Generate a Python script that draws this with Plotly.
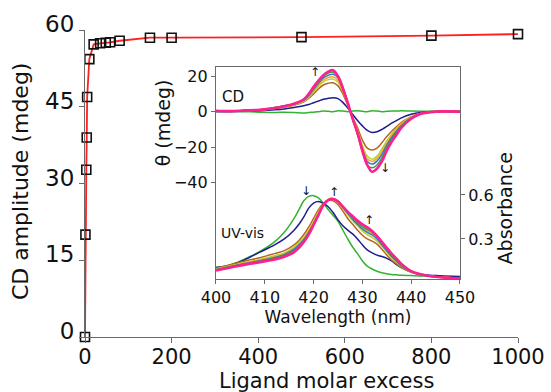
import plotly.graph_objects as go

# ---- main titration curve ----
ligand_excess = [0, 1, 3, 4, 5, 10, 20, 35, 48, 58, 80, 150, 200, 500, 800, 1000]
cd_amplitude = [0, 20, 32.7, 39, 46.9, 54.3, 57.2, 57.4, 57.5, 57.6, 57.9, 58.5, 58.5, 58.6, 58.9, 59.2]
main_xticks = [0, 200, 400, 600, 800, 1000]
main_yticks = [0, 15, 30, 45, 60]

# ---- inset CD spectra ----
wl_cd = [400, 403, 406, 409, 412, 414, 416, 418, 419, 420, 421, 422, 423, 424, 425, 426,
         427, 428, 429, 430, 431, 432, 433, 434, 435, 436, 437, 438, 440, 442, 445, 450]
cd_green1 = [0.5, 0.3, 0, -0.3, -0.5, -0.3, -0.5, -0.8, -0.5, -0.3, 0, 0.3, 0.2, 0, 0.5, 0.3,
             0, 0.3, 0.5, 0.2, 0, 0.5, 0.3, 0, 0.2, 0.4, 0.3, 0.5, 0.3, 0.2, 0.3, 0.3]
cd_navy = [0, 0, 0.2, 0.5, 1, 1.5, 2.3, 3.3, 4, 5, 6, 7, 7.5, 7.8, 7.3, 5.2,
           2, -1.5, -5, -8, -10.5, -11.7, -11.3, -10, -8.3, -6.5, -5, -3.5, -1.5, -0.5, 0, 0]
cd_brown = [0.3, 0.3, 0.5, 0.9, 1.8, 2.6, 3.6, 5.5, 7.5, 10, 12.8, 15, 16, 16.2, 14.5, 10,
            3.5, -3, -9, -16, -20.5, -21.6, -20.5, -17.5, -14, -11, -8.5, -6, -2.8, -0.9, 0, 0]
cd_ygreen = [0.4, 0.3, 0.6, 0.9, 2, 2.8, 3.9, 6, 8, 11, 14.3, 16.8, 18, 18.3, 16.5, 11.3,
             4, -3.5, -10.5, -19, -25, -26.7, -25, -21, -16.5, -12.5, -9.5, -6.5, -3, -1, 0, 0]
cd_orange = [0.4, 0.3, 0.6, 1, 2.1, 3, 4, 6.3, 8.5, 11.8, 15, 17.8, 19.2, 19.5, 17.7, 12,
             4.3, -3.7, -11.5, -20, -26.5, -28, -26.3, -22.5, -17.5, -13.5, -10, -7, -3.3, -1, 0, 0]
cd_blue = [0.5, 0.3, 0.6, 1, 2.2, 3.2, 4.2, 6.5, 9, 12.6, 16, 19, 20.5, 21, 19, 13,
           4.6, -4, -12, -21, -28, -29.5, -27.8, -24, -18.8, -14.5, -11, -7.8, -3.5, -1.1, 0, 0]
cd_green2 = [0.5, 0.3, 0.7, 1, 2.3, 3.3, 4.4, 6.8, 9.5, 13.2, 16.8, 20, 21.7, 22.2, 20.2, 14,
             5, -4.2, -13, -22.5, -30, -31.6, -30, -25.8, -20.3, -15.5, -11.8, -8.2, -3.7, -1.1, 0, 0]
cd_magenta = [0.5, 0.3, 0.7, 1, 2, 3, 4.5, 7, 10, 14, 17.5, 20.5, 22.5, 23.3, 20, 13,
              5, -4, -12, -22, -30, -33.8, -32, -28, -22, -17, -13, -9, -4, -1.2, 0, 0]

# ---- inset UV-vis spectra ----
wl_uv = [400, 403, 406, 409, 412, 414, 416, 417, 418, 419, 420, 421, 422, 423, 424, 425, 426,
         427, 428, 429, 430, 431, 432, 433, 434, 435, 436, 437, 438, 440, 442, 445, 450]
uv_green1 = [.105, .125, .165, .215, .28, .345, .44, .5, .56, .59, .595, .58, .543, .5, .46, .42, .36,
             .3, .245, .2, .15, .115, .095, .08, .07, .063, .058, .055, .052, .05, .048, .047, .046]
uv_navy = [.105, .12, .16, .21, .26, .3, .36, .4, .45, .51, .545, .555, .543, .52, .48, .43, .39,
           .36, .335, .3, .26, .225, .205, .19, .18, .168, .15, .125, .105, .077, .06, .05, .04]
uv_brown = [.1, .125, .15, .172, .2, .22, .26, .29, .33, .38, .44, .5, .543, .565, .56, .535, .49,
            .44, .4, .36, .325, .3, .285, .265, .23, .19, .155, .13, .105, .072, .055, .043, .035]
uv_ygreen = [.095, .118, .14, .16, .185, .205, .245, .275, .31, .36, .42, .485, .535, .568, .57, .55, .51,
             .465, .425, .39, .355, .33, .31, .285, .25, .21, .17, .14, .115, .075, .056, .042, .034]
uv_orange = [.092, .115, .136, .155, .178, .198, .235, .265, .3, .35, .41, .475, .532, .568, .574, .56, .52,
             .48, .44, .405, .375, .355, .335, .305, .265, .225, .185, .15, .12, .078, .057, .042, .033]
uv_blue = [.09, .112, .133, .152, .174, .193, .23, .26, .295, .345, .405, .47, .53, .567, .573, .555, .515,
           .475, .435, .4, .368, .345, .327, .3, .262, .22, .18, .148, .118, .076, .056, .041, .032]
uv_green2 = [.088, .11, .13, .148, .17, .188, .222, .25, .29, .34, .4, .467, .53, .567, .575, .558, .52,
             .483, .448, .415, .385, .365, .345, .315, .275, .232, .19, .155, .123, .078, .057, .041, .032]
uv_magenta = [.085, .105, .125, .142, .16, .178, .21, .24, .28, .33, .395, .463, .53, .565, .573, .555, .52,
              .485, .455, .425, .4, .38, .355, .32, .28, .24, .2, .165, .13, .08, .058, .042, .03]

inset_xticks = [400, 410, 420, 430, 440, 450]
cd_ticks = [20, 0, -20, -40]
abs_ticks = [0.3, 0.6]

series = [
    ("#33b233", 1.5, cd_green1, uv_green1),
    ("#1c1c8e", 1.5, cd_navy, uv_navy),
    ("#b8641e", 1.5, cd_brown, uv_brown),
    ("#b5d42a", 1.5, cd_ygreen, uv_ygreen),
    ("#f7a52a", 1.5, cd_orange, uv_orange),
    ("#3f6fd6", 1.5, cd_blue, uv_blue),
    ("#2e9e3e", 1.5, cd_green2, uv_green2),
    ("#ff1f8f", 2.6, cd_magenta, uv_magenta),
]

FONT = "DejaVu Sans, sans-serif"
AXC = "#6a6a6a"

fig = go.Figure()
fig.add_trace(go.Scatter(
    x=ligand_excess, y=cd_amplitude, mode="lines+markers",
    line=dict(color="#ff2020", width=1.8),
    marker=dict(symbol="square-open", size=9, color="#111111", line=dict(width=1.6, color="#111111")),
    cliponaxis=False, showlegend=False, xaxis="x", yaxis="y"))

for color, w, cd, uv in series:
    fig.add_trace(go.Scatter(x=wl_cd, y=cd, mode="lines", line=dict(color=color, width=w, shape="spline"),
                             showlegend=False, xaxis="x2", yaxis="y2"))
for color, w, cd, uv in series:
    fig.add_trace(go.Scatter(x=wl_uv, y=uv, mode="lines", line=dict(color=color, width=w, shape="spline"),
                             showlegend=False, xaxis="x2", yaxis="y3"))

ann = []
def txt(x, y, t, xr, yr, size=15, angle=0):
    ann.append(dict(x=x, y=y, text=t, xref=xr, yref=yr, showarrow=False, textangle=angle,
                    xanchor="center", yanchor="middle",
                    font=dict(family=FONT, size=size, color="#111111")))

txt(403.4, 8, "CD", "x2", "y2", 15)
txt(405.5, 0.34, "UV-vis", "x2", "y3", 14)
txt(420.3, 22.5, "↑", "x2", "y2", 12)
txt(434.6, -31.5, "↓", "x2", "y2", 12)
txt(418.4, 0.63, "↓", "x2", "y3", 12)
txt(424.2, 0.62, "↑", "x2", "y3", 12)
txt(431.4, 0.43, "↑", "x2", "y3", 12)
# axis titles placed as in the reference
txt(0.5566, -0.1433, "Ligand molar excess", "paper", "paper", 21)
txt(-0.150, 0.508, "CD amplitude (mdeg)", "paper", "paper", 22, -90)
txt(0.180, 0.699, "θ (mdeg)", "paper", "paper", 19, -90)
txt(0.970, 0.419, "Absorbance", "paper", "paper", 19, -90)

fig.update_layout(
    width=551, height=392,
    margin=dict(l=85, r=33, t=30, b=55),
    paper_bgcolor="white", plot_bgcolor="white",
    font=dict(family=FONT, color="#111111"),
    annotations=ann,
    xaxis=dict(range=[0, 1000], tickvals=main_xticks, showgrid=False, zeroline=False, automargin=False,
               showline=True, linecolor=AXC, linewidth=1.2, ticks="outside", ticklen=5, tickcolor=AXC,
               tickfont=dict(size=21), ticklabelstandoff=-4),
    yaxis=dict(range=[0, 60], tickvals=main_yticks, showgrid=False, zeroline=False, automargin=False,
               showline=True, linecolor=AXC, linewidth=1.2, ticks="outside", ticklen=5, tickcolor=AXC,
               tickfont=dict(size=23), ticklabelshift=-6),
    xaxis2=dict(domain=[0.3025, 0.866], anchor="y2", range=[400, 450], tickvals=inset_xticks,
                automargin=False,
                showgrid=False, zeroline=False, showline=True, mirror=True, linecolor=AXC, linewidth=1.2,
                ticks="outside", ticklen=4, tickcolor=AXC, tickfont=dict(size=16),
                title=dict(text="Wavelength (nm)", font=dict(size=17), standoff=0)),
    yaxis2=dict(domain=[0.189, 0.880], anchor="x2", range=[-94.1, 25.2], tickvals=cd_ticks,
                automargin=False,
                showgrid=False, zeroline=False, showline=True, mirror=True, linecolor=AXC, linewidth=1.2,
                ticks="outside", ticklen=4, tickcolor=AXC, tickfont=dict(size=16)),
    yaxis3=dict(overlaying="y2", anchor="x2", side="right", range=[0.027, 1.474], tickvals=abs_ticks,
                automargin=False,
                showgrid=False, zeroline=False, showline=False,
                ticks="outside", ticklen=4, tickcolor=AXC, tickfont=dict(size=16)),
)

fig.write_html("out.html")
